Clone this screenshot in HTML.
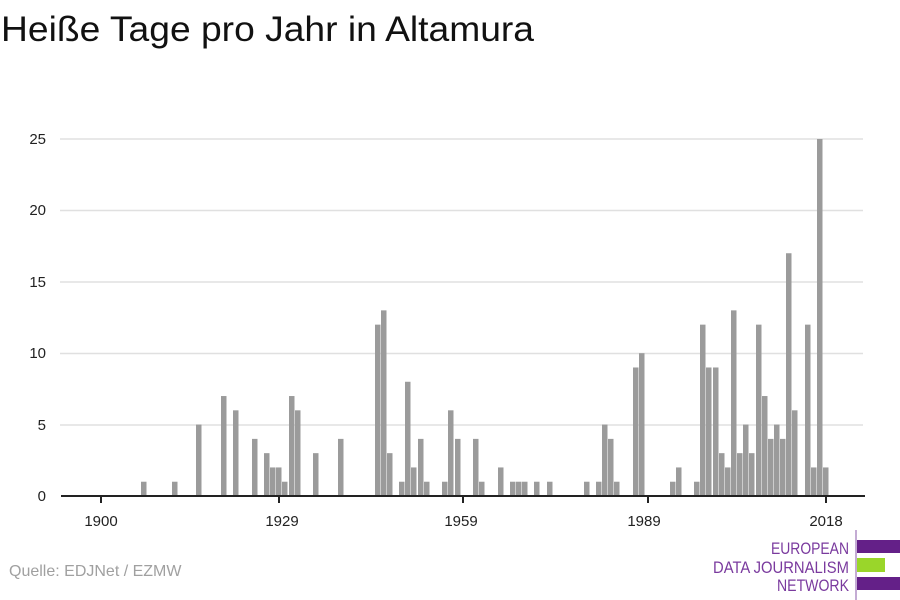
<!DOCTYPE html>
<html><head><meta charset="utf-8"><style>
body{margin:0;background:#fff;}
svg{display:block;font-family:"Liberation Sans",sans-serif;}
</style></head><body>
<svg width="900" height="600" viewBox="0 0 900 600">
<text x="1" y="41" font-size="35" fill="#111" textLength="533" lengthAdjust="spacingAndGlyphs">Heiße Tage pro Jahr in Altamura</text>
<g stroke="#e0e0e0" stroke-width="1.5">
<line x1="60" x2="863" y1="425" y2="425"/>
<line x1="60" x2="863" y1="353.5" y2="353.5"/>
<line x1="60" x2="863" y1="282" y2="282"/>
<line x1="60" x2="863" y1="210.5" y2="210.5"/>
<line x1="60" x2="863" y1="139" y2="139"/>
</g>
<g font-size="15" fill="#222" text-anchor="end">
<text x="46" y="501">0</text><text x="46" y="430">5</text><text x="46" y="358">10</text>
<text x="46" y="287">15</text><text x="46" y="215">20</text><text x="46" y="144">25</text>
</g>
<g fill="#9b9b9b" id="bars"></g>
<line x1="61" x2="865" y1="496" y2="496" stroke="#222" stroke-width="2"/>
<g stroke="#222" stroke-width="2">
<line x1="101" x2="101" y1="496" y2="503"/><line x1="279" x2="279" y1="496" y2="503"/>
<line x1="463" x2="463" y1="496" y2="503"/><line x1="648" x2="648" y1="496" y2="503"/>
<line x1="826" x2="826" y1="496" y2="503"/>
</g>
<g font-size="15" fill="#222" text-anchor="middle">
<text x="101" y="526">1900</text><text x="282" y="526">1929</text><text x="461" y="526">1959</text>
<text x="644" y="526">1989</text><text x="826" y="526">2018</text>
</g>
<text x="9" y="576" font-size="16" fill="#a0a0a0">Quelle: EDJNet / EZMW</text>
<g font-size="17" fill="#7a3a9e" text-anchor="end">
<text x="849" y="554" textLength="78" lengthAdjust="spacingAndGlyphs">EUROPEAN</text>
<text x="849" y="573" textLength="136" lengthAdjust="spacingAndGlyphs">DATA JOURNALISM</text>
<text x="849" y="591" textLength="72" lengthAdjust="spacingAndGlyphs">NETWORK</text>
</g>
<line x1="856" x2="856" y1="530" y2="600" stroke="#8a5aa8" stroke-width="1"/>
<rect x="857" y="540" width="43" height="13" fill="#642088"/>
<rect x="857" y="558" width="28" height="14" fill="#9ad62a"/>
<rect x="857" y="577" width="43" height="13" fill="#642088"/>
</svg>
<script>
var d=[[141,1],[172,1],[196,5],[221,7],[233,6],[252,4],[264,3],[270,2],[276,2],[282,1],[289,7],[295,6],[313,3],[338,4],
[375,12],[381,13],[387,3],[399,1],[405,8],[411,2],[418,4],[424,1],[442,1],[448,6],[455,4],[473,4],[479,1],[498,2],[510,1],[516,1],[522,1],[534,1],[547,1],[584,1],[596,1],[602,5],[608,4],[614,1],[633,9],[639,10],
[670,1],[676,2],[694,1],[700,12],[706,9],[713,9],[719,3],[725,2],[731,13],[737,3],[743,5],[749,3],[756,12],[762,7],[768,4],[774,5],[780,4],[786,17],[792,6],[805,12],[811,2],[817,25],[823,2]];
var g=document.getElementById('bars'),s='';
d.forEach(function(b){var h=b[1]*14.28;s+='<rect x="'+b[0]+'" y="'+(496-h)+'" width="5.5" height="'+h+'"/>';});
g.innerHTML=s;
</script>
</body></html>
